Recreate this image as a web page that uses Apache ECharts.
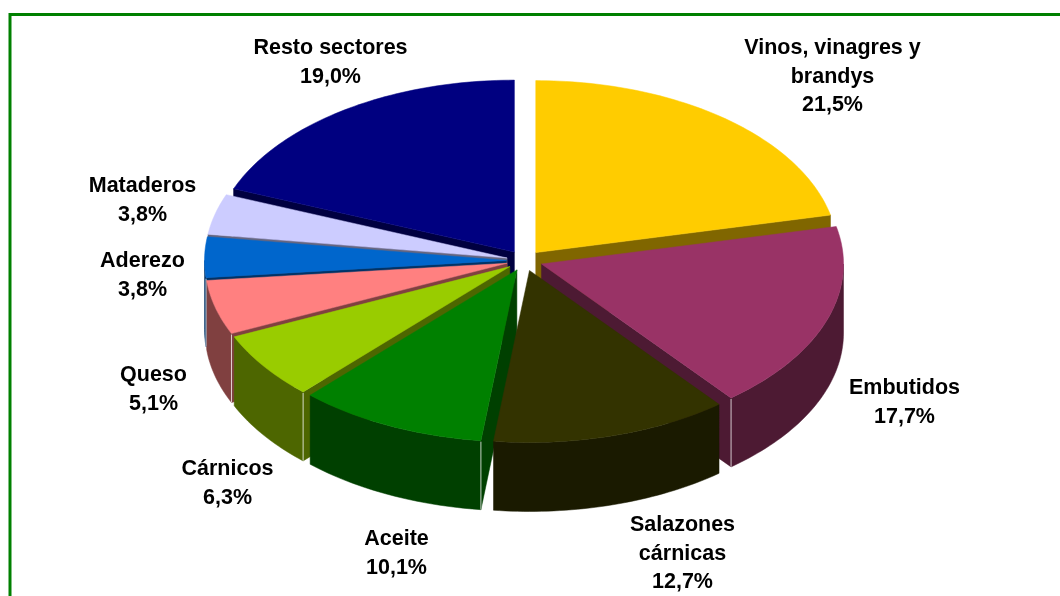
<!DOCTYPE html>
<html>
<head>
<meta charset="utf-8">
<title>Sectores</title>
<script src="https://cdn.jsdelivr.net/npm/echarts@6/dist/echarts.min.js"></script>
<style>
  html, body { margin: 0; padding: 0; background: #fff; }
  #chart { width: 1060px; height: 596px; }
</style>
</head>
<body>
<div id="chart"></div>
<script>
// data
const categories = ['Vinos, vinagres y\nbrandys', 'Embutidos', 'Salazones\ncárnicas', 'Aceite',
  'Cárnicos', 'Queso', 'Aderezo', 'Mataderos', 'Resto sectores']
const shares = [21.5, 17.7, 12.7, 10.1, 6.3, 5.1, 3.8, 3.8, 19.0]

// look
const topColors = ['#FFCC00', '#993366', '#333300', '#008000', '#99CC00', '#FF8080', '#0066CC', '#CCCCFF', '#000080']
const sideColors = ['#806600', '#4D1A33', '#1A1A00', '#004000', '#4D6600', '#804040', '#003366', '#666680', '#000040']
// label centre, relative to the pie centre
const labelOffsets = [[308, -184], [380, 142], [158, 293], [-128, 293], [-297, 223],
  [-371, 129], [-382, 15], [-382, -60], [-194, -198]]

const CX = 524.5, CY = 260.6, RX = 302, RY = 172, DEPTH = 69, EXPLODE = 18

const total = shares.reduce((a, b) => a + b, 0)
const fmt = v => v.toFixed(1).replace('.', ',') + '%'

function renderItem(params, api) {
  const i = params.dataIndex
  const value = api.value(0)
  let before = 0
  for (let k = 0; k < i; k++) before += shares[k]
  const a0 = before / total * Math.PI * 2
  const a1 = a0 + value / total * Math.PI * 2
  const am = (a0 + a1) / 2
  const cx = CX + Math.sin(am) * EXPLODE
  const cy = CY - Math.cos(am) * EXPLODE * RY / RX
  const pt = (t, dz) => [cx + Math.sin(t) * RX, cy - Math.cos(t) * RY + dz]
  const arc = (from, to, dz) => {
    const n = Math.max(4, Math.ceil(Math.abs(to - from) / 0.02))
    const out = []
    for (let s = 0; s <= n; s++) out.push(pt(from + (to - from) * s / n, dz))
    return out
  }
  const children = []
  const side = sideColors[i]

  // outer wall, only the part that faces us
  const lo = Math.max(a0, Math.PI / 2), hi = Math.min(a1, Math.PI * 1.5)
  if (hi > lo) {
    const pts = arc(lo, hi, 0).concat(arc(lo, hi, DEPTH).reverse())
    children.push({
      type: 'polygon', shape: { points: pts },
      style: { fill: side, stroke: side, lineWidth: 0.5 },
      z2: 100 + (-Math.cos((lo + hi) / 2)) * 100
    })
  }
  // cut faces
  const faces = []
  if (Math.sin(a0) < 0) faces.push(a0)
  if (Math.sin(a1) > 0) faces.push(a1)
  faces.forEach(t => {
    const o = pt(t, 0)
    children.push({
      type: 'polygon',
      shape: { points: [[cx, cy], o, [o[0], o[1] + DEPTH], [cx, cy + DEPTH]] },
      style: { fill: side, stroke: side, lineWidth: 0.5 },
      z2: 100 + (-Math.cos(t)) * 50
    })
    const onWall = t >= Math.PI / 2 && t <= Math.PI * 1.5 && hi > lo
    if (onWall) {
      children.push({
        type: 'line',
        shape: { x1: o[0], y1: o[1] + 1, x2: o[0], y2: o[1] + DEPTH },
        style: { stroke: 'rgba(255,255,255,0.75)', lineWidth: 1 },
        z2: 300
      })
    }
  })
  // top face
  children.push({
    type: 'polygon',
    shape: { points: [[cx, cy]].concat(arc(a0, a1, 0)) },
    style: { fill: topColors[i], stroke: topColors[i], lineWidth: 0.5 },
    z2: 500
  })
  // label
  const off = labelOffsets[i]
  children.push({
    type: 'text',
    style: {
      text: categories[i] + '\n' + fmt(value),
      x: CX + off[0], y: CY + off[1],
      fill: '#000',
      fontSize: 21.5, fontWeight: 'bold', fontFamily: '"Liberation Sans", Arial, sans-serif',
      lineHeight: 28.5,
      align: 'center', verticalAlign: 'middle'
    },
    z2: 600
  })
  return { type: 'group', children: children }
}

const chart = echarts.init(document.getElementById('chart'))
chart.setOption({
  animation: false,
  graphic: [{
    type: 'rect',
    shape: { x: 10, y: 14.5, width: 1060, height: 600 },
    style: { fill: 'none', stroke: '#008000', lineWidth: 3 },
    silent: true
  }],
  series: [{
    type: 'custom',
    coordinateSystem: 'none',
    renderItem: renderItem,
    data: shares.map((v, i) => ({ name: categories[i], value: [v] }))
  }]
})
</script>
</body>
</html>
